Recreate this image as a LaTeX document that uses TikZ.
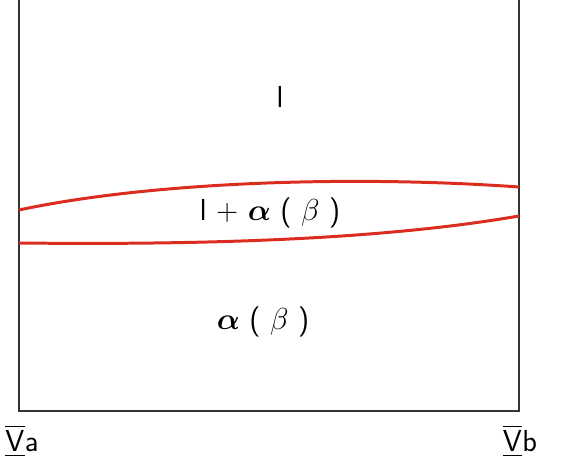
\documentclass[tikz,border=0pt]{standalone}
\usepackage{amsmath}
\usepackage{bm}
\definecolor{phasered}{RGB}{218,45,32}
\tikzset{
  axisline/.style={line width=1.2pt, black!80},
  phaseline/.style={line width=1.7pt, phasered},
}
\begin{document}
\begin{tikzpicture}[x=0.02cm, y=-0.02cm, font=\sffamily\LARGE]
  \useasboundingbox (0,0) rectangle (562,469);
  \coordinate (tl) at (19,0);
  \coordinate (bl) at (19,411);
  \coordinate (br) at (519,411);
  \coordinate (tr) at (519,0);
  \draw[axisline] (tl) -- (bl) -- (br) -- (tr);
  % liquidus and solidus
  \draw[phaseline] (19,210) .. controls (150,182) and (350,175) .. (519,187);
  \draw[phaseline] (19,243) .. controls (200,245) and (380,240) .. (519,216);
  \node (liq) at (280,97) {l};
  \node (mix) at (270,213) {l + $\bm{\alpha}$ ( $\beta$ )};
  \node (sol) at (263,322) {$\bm{\alpha}$ ( $\beta$ )};
  \node (va) at (22,441) {$\overline{\underline{\mathsf{V}}}$a};
  \node (vb) at (520,441) {$\overline{\underline{\mathsf{V}}}$b};
\end{tikzpicture}
\end{document}
